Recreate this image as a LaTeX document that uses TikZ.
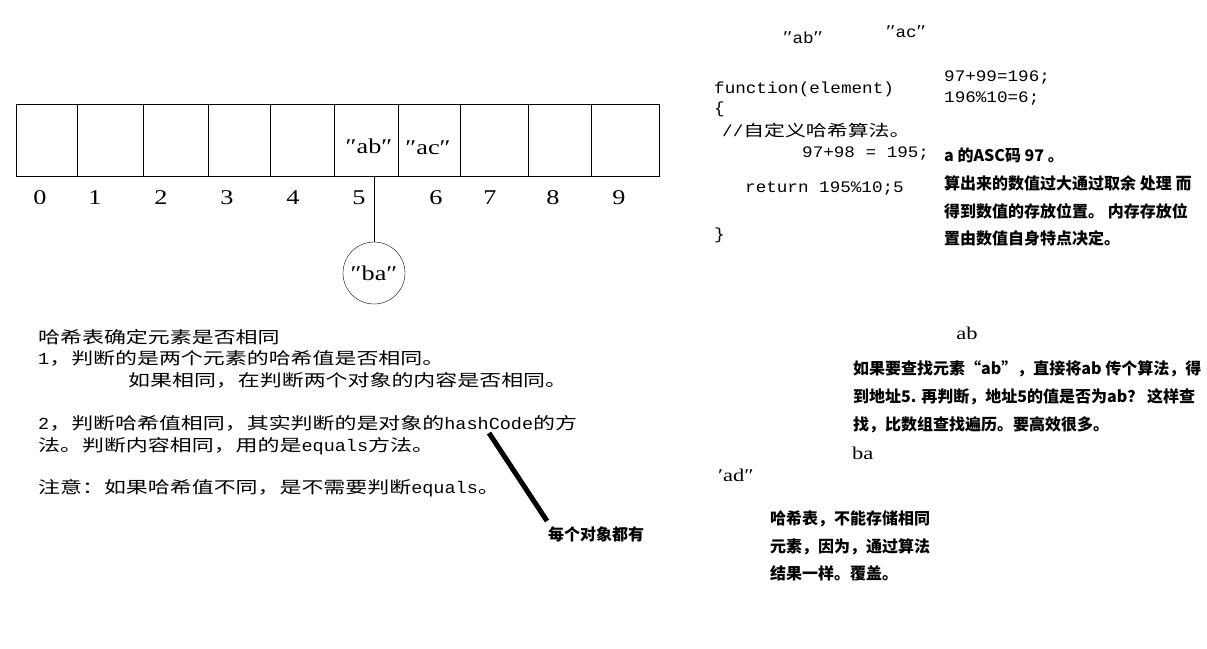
\documentclass[tikz,border=0pt]{standalone}
\usepackage{fontspec}
\setmainfont{Liberation Serif}
\newfontfamily\cjk{Noto Sans CJK SC}[FakeStretch=1.33]
\newfontfamily\yahei{Noto Sans CJK SC}
\newfontfamily\mono{Liberation Mono}[FakeStretch=1.1,Scale=1.02]
\newfontfamily\serif{Liberation Serif}[FakeStretch=1.25]
\newcommand\m[1]{{\mono #1}}
\newcommand\dq{{\serif\fontsize{18}{20}\selectfont ″}}

\begin{document}
\begin{tikzpicture}
  [x=1pt,y=-1pt,
   every node/.style={inner sep=0pt},
   idx/.style={font=\serif\fontsize{21}{24}\selectfont},
   plain/.style={anchor=base west,font=\cjk\fontsize{16.5}{20}\selectfont},
   code/.style={anchor=base west,font=\cjk\fontsize{15.7}{20}\selectfont},
   note/.style={anchor=base west,font=\yahei\bfseries\fontsize{16}{20}\selectfont},
   word/.style={font=\serif\fontsize{18}{20}\selectfont}]
  \useasboundingbox[fill=white] (0,0) rectangle (1207,648);

  % the table with its ten slots
  \draw (16,104) rectangle (659,176);
  \foreach \x in {77,143,208,270,334,398,460,528,591}
    \draw (\x,104) -- (\x,176);
  \foreach \x/\i in {40/0,95/1,161/2,227/3,293/4,359/5,436/6,490/7,553/8,619/9}
    \node[idx] (i\i) at (\x,198) {\i};
  \node[idx] (ab) at (369,146) {″ab″};
  \node[idx] (ac) at (428,148) {″ac″};
  \coordinate (slot5) at (374,176);
  \node[idx,draw,circle,minimum size=62pt] (ba) at (374,273) {″ba″};
  \draw (slot5) -- (ba);

  % hash function
  \node[code] (q1) at (783,43) {\dq\m{ab}\dq};
  \node[code] (q2) at (886,37) {\dq\m{ac}\dq};
  \node[code] (c1) at (714,93) {\m{function(element)}};
  \node[code] (c2) at (714,113) {\m{\{}};
  \node[code] (c3) at (722,136) {\m{//}自定义哈希算法。};
  \node[code] (c4) at (802,157) {\m{97+98 = 195;}};
  \node[code] (c5) at (745,192) {\m{return 195\%10;5}};
  \node[code] (c6) at (714,239) {\m{\}}};
  \node[code] (c7) at (944,81) {\m{97+99=196;}};
  \node[code] (c8) at (944,102) {\m{196\%10=6;}};
  \node[note] (n1) at (944,161) {a 的ASC码 97 。};
  \node[note] (n2) at (944,189) {算出来的数值过大通过取余 处理 而};
  \node[note] (n3) at (944,217) {得到数值的存放位置。 内存存放位};
  \node[note] (n4) at (944,244) {置由数值自身特点决定。};

  % notes on the left
  \node[plain] (t1) at (38,343) {哈希表确定元素是否相同};
  \node[plain] (t2) at (38,364) {\m{1}，判断的是两个元素的哈希值是否相同。};
  \node[plain] (t3) at (128,386) {如果相同，在判断两个对象的内容是否相同。};
  \node[plain] (t4) at (38,429) {\m{2}，判断哈希值相同，其实判断的是对象的\m{hashCode}的方};
  \node[plain] (t5) at (38,451) {法。判断内容相同，用的是\m{equals}方法。};
  \node[plain] (t6) at (38,493) {注意：如果哈希值不同，是不需要判断\m{equals}。};
  \coordinate (hc) at (489,433);
  \coordinate (hcend) at (547,521);
  \node[note] (own) at (548,540) {每个对象都有};
  \draw[line width=5pt] (hc) -- (hcend);

  % lookup notes
  \node[word] (w1) at (967,333) {ab};
  \node[note] (p1) at (853,374) {如果要查找元素“ab”，直接将ab 传个算法，得};
  \node[note] (p2) at (853,402) {到地址5. 再判断，地址5的值是否为ab？ 这样查};
  \node[note] (p3) at (853,430) {找，比数组查找遍历。要高效很多。};
  \node[word,anchor=west] (w2) at (852,453) {ba};
  \node[word,anchor=west] (w3) at (718,475) {′ad″};
  \node[note] (p4) at (770,524) {哈希表，不能存储相同};
  \node[note] (p5) at (770,552) {元素，因为，通过算法};
  \node[note] (p6) at (770,579) {结果一样。覆盖。};
\end{tikzpicture}
\end{document}
